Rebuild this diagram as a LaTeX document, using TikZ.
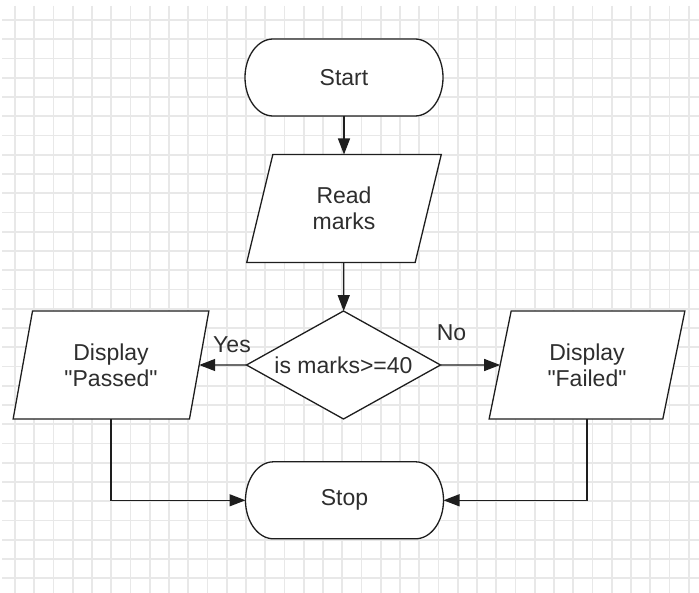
\documentclass[tikz,border=0pt]{standalone}
\usepackage{fontspec}
\setmainfont{Liberation Sans}
\usetikzlibrary{arrows.meta,shapes.geometric,calc}

\definecolor{gridgray}{HTML}{E8E8E8}
\definecolor{inkline}{HTML}{1E1E1E}
\definecolor{inktext}{HTML}{2E2E2E}

\tikzset{
  gridline/.style={draw=gridgray, line width=1.6pt},
  shapeline/.style={draw=inkline, fill=white, line width=1.3pt},
  labeltext/.style={text=inktext, font=\fontsize{23}{26}\selectfont, inner sep=0pt},
  termnode/.style={labeltext, minimum width=198pt, minimum height=77pt, outer sep=0pt},
  iobox/.style={shapeline, labeltext, align=center, trapezium, trapezium left angle=75,
    trapezium right angle=105, trapezium stretches=true,
    minimum width=196pt, minimum height=108pt, outer sep=0pt},
  decision/.style={shapeline, labeltext, diamond, aspect=1.796, minimum width=194pt,
    minimum height=108pt, outer sep=0pt},
  flow/.style={draw=inkline, line width=1.3pt, -{Triangle[length=16pt,width=12pt]}}
}

% terminal: straight top and bottom, half-elliptical ends
\newcommand\terminalbox[3]{%
  \draw[shapeline] ($#2+(-71pt,38.5pt)$) -- ($#2+(71pt,38.5pt)$)
    arc[start angle=90, end angle=-90, x radius=28pt, y radius=38.5pt]
    -- ($#2+(-71pt,-38.5pt)$)
    arc[start angle=270, end angle=90, x radius=28pt, y radius=38.5pt] -- cycle;
  \node[termnode] (#1) at #2 {#3};}

\begin{document}
\begin{tikzpicture}[x=1pt, y=1pt]
  \useasboundingbox (0,0) rectangle (699,-593);
  \fill[white] (0,0) rectangle (699,-593);

  % squared paper
  \foreach \k in {0,...,35}
    \draw[gridline] ({15+19.25*\k},-6) -- ({15+19.25*\k},-593);
  \foreach \k in {0,...,29}
    \draw[gridline] (2,{-20-19.25*\k}) -- (699,{-20-19.25*\k});

  % shapes
  \terminalbox{start}{(344,-77.5)}{Start}
  \node[iobox] (read) at (344,-208.5) {Read\\marks};
  \node[decision] (check) at (343.5,-365) {is marks>=40};
  \node[iobox] (passed) at (111,-365) {Display\\\textquotedbl Passed\textquotedbl};
  \node[iobox] (failed) at (587,-365) {Display\\\textquotedbl Failed\textquotedbl};
  \terminalbox{stop}{(344.5,-500.3)}{Stop}

  % connectors
  \draw[flow] (start) -- (read);
  \draw[flow] (read) -- (check);
  \draw[flow] (check.west) -- (passed);
  \draw[flow] (check.east) -- (failed);
  \draw[flow] (passed.south) |- (stop.west);
  \draw[flow] (failed.south) |- (stop.east);

  % branch labels
  \node[labeltext, anchor=base] (yeslabel) at (232,-352.7) {Yes};
  \node[labeltext, anchor=base] (nolabel) at (451.5,-340.7) {No};
\end{tikzpicture}
\end{document}
